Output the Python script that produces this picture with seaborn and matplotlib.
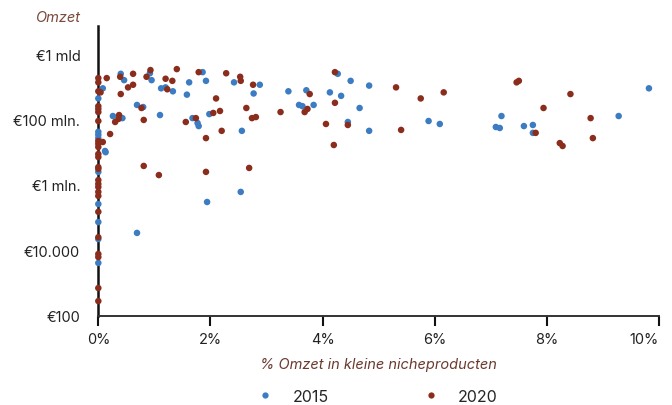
import numpy as np
import matplotlib.pyplot as plt
import seaborn as sns
import pandas as pd

# % omzet in kleine nicheproducten (x) en omzet in euro (y), per jaar
x_2015 = [0.40, 0.46, 0.92, 0.95, 1.12, 1.20, 1.33, 1.62, 1.58, 1.86, 1.92, 2.42,
          2.88, 2.77, 3.39, 3.71, 4.13, 4.27, 4.50, 4.83, 4.33, 0.69, 0.80, 0.26,
          0.43, 1.10, 1.68, 1.77, 1.79, 1.98, 2.56, 3.58, 3.64, 3.84, 4.66, 4.45,
          4.83, 5.89, 6.09, 7.19, 7.09, 7.16, 7.59, 7.75, 7.75, 9.28, 9.82, 0.08,
          0.12, 0.13, 2.54, 1.94, 0.69,
          0.0, 0.0, 0.0, 0.0, 0.0, 0.0, 0.0, 0.0, 0.0]
y_2015 = [5.0e8, 4.0e8, 5.1e8, 4.0e8, 3.0e8, 3.1e8, 2.7e8, 3.7e8, 2.4e8, 5.3e8, 3.9e8, 3.7e8,
          3.4e8, 2.5e8, 2.7e8, 2.8e8, 2.6e8, 5.0e8, 3.9e8, 3.3e8, 2.3e8, 1.67e8, 1.55e8, 1.13e8,
          1.05e8, 1.17e8, 1.05e8, 7.8e7, 6.3e7, 1.21e8, 4.5e7, 1.67e8, 1.6e8, 1.67e8, 1.5e8, 8.4e7,
          4.5e7, 9.0e7, 7.3e7, 1.13e8, 5.9e7, 5.5e7, 6.3e7, 6.8e7, 3.9e7, 1.13e8, 3.0e8, 3.0e8,
          1.09e7, 1.0e7, 6.1e5, 3.0e5, 3.4e4,
          2.1e8, 4.2e7, 3.4e7, 2.7e7, 2.5e6, 2.6e5, 7.3e4, 2.2e4, 4.1e3]

x_2020 = [0.15, 0.39, 0.62, 0.53, 0.62, 0.40, 0.86, 0.93, 1.20, 1.32, 1.23, 1.40,
          1.79, 2.10, 2.28, 2.53, 2.54, 2.76, 3.77, 4.22, 4.22, 5.31, 5.75, 6.16,
          0.77, 0.37, 0.36, 0.30, 0.81, 1.56, 1.74, 2.05, 2.17, 1.92, 2.20, 2.64,
          2.74, 2.81, 3.25, 3.68, 3.73, 4.06, 4.20, 4.45, 5.40, 7.46, 7.50, 7.94,
          8.42, 8.23, 8.28, 8.78, 8.82, 7.80, 0.21, 0.08, 0.04, 0.81, 1.08, 1.92,
          2.69,
          0.0, 0.0, 0.0, 0.0, 0.0, 0.0, 0.0, 0.0, 0.0, 0.0, 0.0, 0.0, 0.0, 0.0,
          0.0, 0.0, 0.0, 0.0, 0.0, 0.0, 0.0, 0.0, 0.0, 0.0, 0.0]
y_2020 = [4.3e8, 4.5e8, 5.0e8, 3.1e8, 3.4e8, 2.45e8, 4.5e8, 5.7e8, 4.2e8, 3.9e8, 2.9e8, 5.9e8,
          5.3e8, 2.1e8, 5.1e8, 4.5e8, 3.9e8, 3.4e8, 2.45e8, 5.3e8, 1.8e8, 3.1e8, 2.1e8, 2.6e8,
          1.5e8, 1.17e8, 1.02e8, 8.4e7, 9.7e7, 8.4e7, 1.05e8, 1.26e8, 1.35e8, 2.7e7, 4.5e7, 1.5e8,
          1.05e8, 1.09e8, 1.3e8, 1.3e8, 1.45e8, 7.3e7, 1.66e7, 6.8e7, 4.8e7, 3.7e8, 3.9e8, 1.5e8,
          2.45e8, 1.9e7, 1.55e7, 1.05e8, 2.7e7, 3.9e7, 3.6e7, 2.05e7, 2.6e8, 3.8e6, 2.0e6, 2.5e6,
          3.3e6,
          4.3e8, 3.7e8, 2.7e8, 1.6e8, 1.45e8, 1.3e8, 9.0e7, 2.2e7, 1.8e7, 1.44e7, 8.8e6, 7.1e6,
          3.5e6, 3.1e6, 1.4e6, 1.07e6, 8.6e5, 6.1e5, 4.6e5, 1.5e5, 2.5e4, 7.7e3, 6.2e3, 700, 280]

y_ticks = [1e2, 1e4, 1e6, 1e8, 1e9]
y_ticklabels = ["€100", "€10.000", "€1 mln.", "€100 mln.", "€1 mld"]
x_ticks = [0, 2, 4, 6, 8, 10]
years = ["2015", "2020"]
colors = {"2015": "#3b7cc2", "2020": "#8b2d1c"}

df = pd.concat([
    pd.DataFrame({"pct": x_2015, "omzet": y_2015, "jaar": "2015"}),
    pd.DataFrame({"pct": x_2020, "omzet": y_2020, "jaar": "2020"}),
])


# tick labels are equally spaced although the last step is one decade instead of two
def fwd(v):
    lg = np.log10(np.clip(v, 1e-3, None))
    return np.where(lg > 8, 3 + (lg - 8), (lg - 2) / 2)


def inv(t):
    return np.where(t > 3, 10 ** (8 + (t - 3)), 10 ** (2 + 2 * t))


sns.set_style("white")
plt.rcParams['font.family'] = ['Inter', 'DejaVu Sans']

fig = plt.figure(figsize=(6.72, 4.06), dpi=100)
ax = fig.add_axes([0.1463, 0.22, 0.8344, 0.7135])
ax.set_yscale("function", functions=(fwd, inv))

sns.scatterplot(data=df, x="pct", y="omzet", hue="jaar", hue_order=years,
                palette=colors, s=22, linewidth=0, legend=False, ax=ax,
                clip_on=False, zorder=3)

ax.set_xlim(0, 10)
ax.set_ylim(1e2, 10 ** 9.43)
ax.set_xticks(x_ticks)
ax.set_xticklabels([f"{t}%" for t in x_ticks], fontsize=10.5, color="#222222")
ax.get_xticklabels()[-1].set_horizontalalignment("right")
ax.set_yticks(y_ticks)
ax.set_yticklabels(y_ticklabels, fontsize=10.5, color="#222222")
ax.yaxis.set_minor_locator(plt.NullLocator())
ax.tick_params(axis="x", direction="out", length=7, width=1.5, color="#111111", pad=5, bottom=True)
ax.tick_params(axis="y", length=0, pad=13)

for side in ["top", "right"]:
    ax.spines[side].set_visible(False)
ax.spines["left"].set_color("#111111")
ax.spines["left"].set_linewidth(1.8)
ax.spines["bottom"].set_color("#333333")
ax.spines["bottom"].set_linewidth(1.4)

ax.set_xlabel("% Omzet in kleine nicheproducten", fontsize=10.5, style="italic",
              color="#6b3a2e", labelpad=8)
ax.set_ylabel("")
fig.text(0.119, 0.955, "Omzet", fontsize=10.5, style="italic", color="#7a4a3a",
         ha="right", va="center")

handles = [plt.Line2D([], [], marker="o", linestyle="", markersize=4.5,
                      markerfacecolor=colors[y], markeredgewidth=0) for y in years]
fig.legend(handles, years, loc="center", bbox_to_anchor=(0.556, 0.022), ncol=2,
           frameon=False, fontsize=11.5, columnspacing=5.4, handletextpad=0.7)

fig.savefig("out.png", dpi=100)
